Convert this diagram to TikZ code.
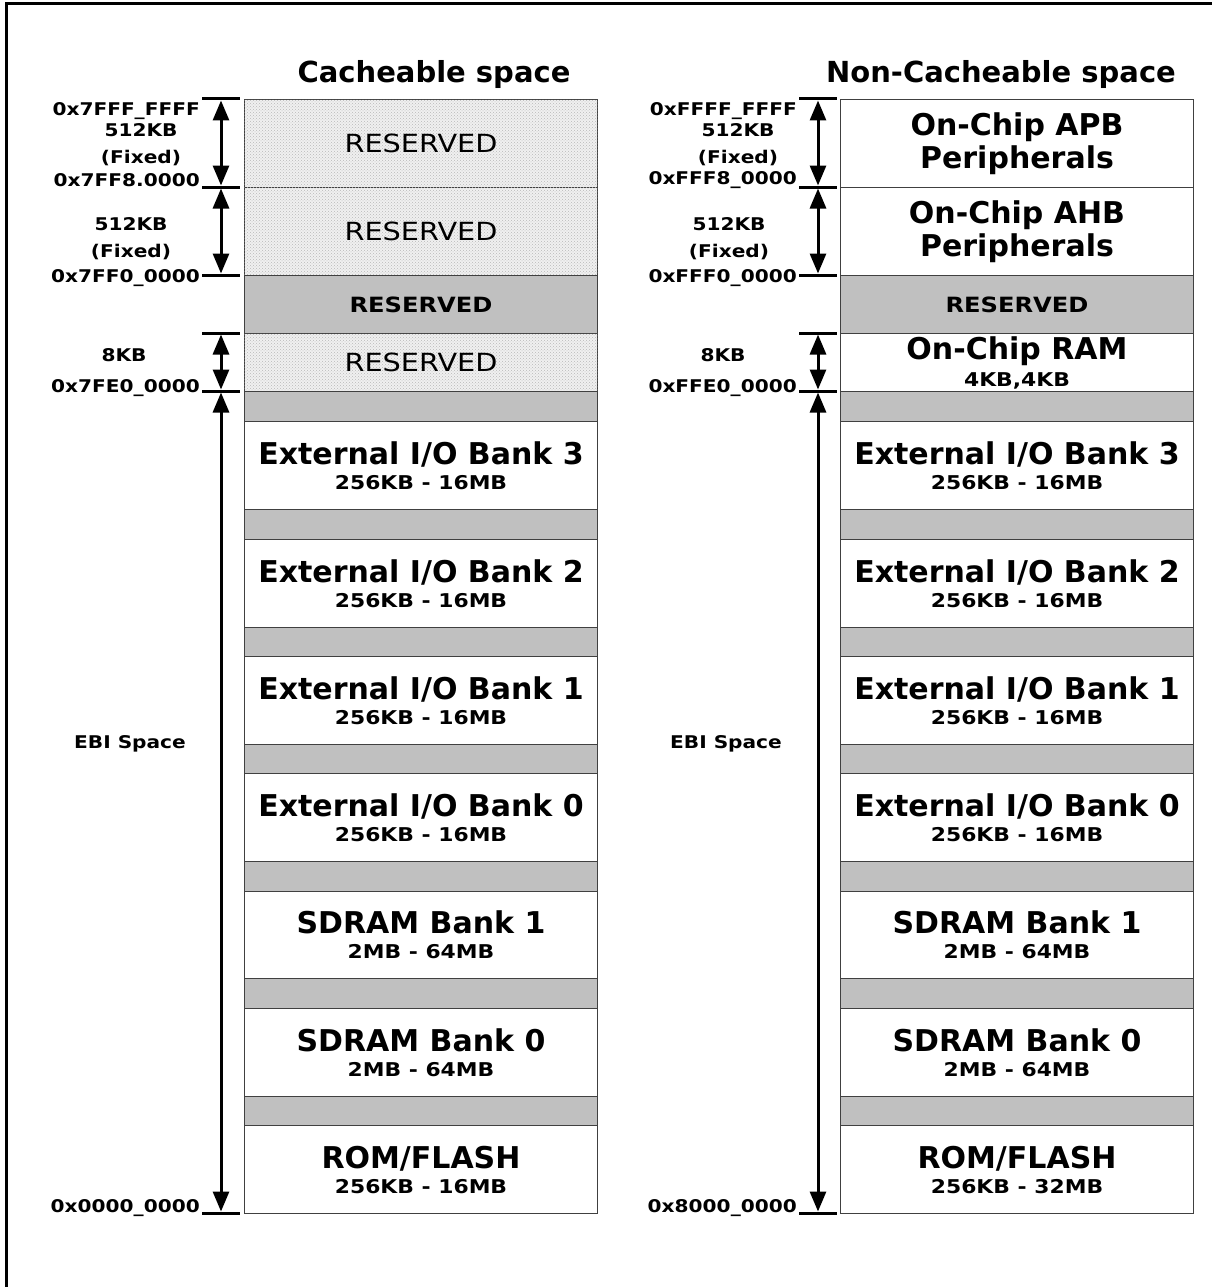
\documentclass[tikz,border=0pt]{standalone}
\usepackage{fontspec}
\setmainfont{DejaVu Sans}
\newfontfamily\widefont{DejaVu Sans}[FakeStretch=1.15]
\usetikzlibrary{patterns,arrows.meta,positioning}

\definecolor{resgray}{RGB}{192,192,192}
\newcommand{\blksize}[1]{{\widefont\fontsize{19}{22}\selectfont #1}}

\tikzset{
  memblk/.style={draw=black!75, line width=1pt, minimum width=353pt,
    anchor=north west, inner sep=0pt, align=center,
    font=\fontsize{30}{25}\selectfont\bfseries},
  hatchblk/.style={memblk, fill=gray!12,
    postaction={pattern=crosshatch dots, pattern color=gray!55},
    font=\widefont\fontsize{25}{28}\selectfont\mdseries},
  grayblk/.style={memblk, fill=resgray, font=\widefont\fontsize{21}{24}\selectfont\bfseries},
  addr/.style={anchor=east, inner sep=0pt, font=\widefont\fontsize{17.5}{20}\selectfont\bfseries},
  sizelbl/.style={inner sep=0pt, align=center, font=\widefont\fontsize{17.5}{27}\selectfont\bfseries},
  title/.style={inner sep=0pt, font=\fontsize{29}{32}\selectfont\bfseries},
  tickline/.style={line width=3pt},
  sizearrow/.style={line width=3pt, shorten <=1.5pt, shorten >=1.5pt,
    {Triangle[width=16pt,length=20pt]}-{Triangle[width=16pt,length=20pt]}}
}

\begin{document}
\begin{tikzpicture}[x=1pt,y=-1pt]
  %\draw[help lines] (0,0) grid[step=100] (1212,1287);
  \useasboundingbox (0,0) rectangle (1212,1287);
  \draw[line width=3pt] (6,1290) -- (6,4) -- (1215,4);

  \node[title] (ctitle) at (434,75) {Cacheable space};
  \node[title] (ntitle) at (1001,75) {Non-Cacheable space};

  % cacheable column
  \node[hatchblk, minimum height=88] (cres1) at (244,99) {RESERVED};
  \node[hatchblk, minimum height=88] (cres2) at (244,187) {RESERVED};
  \node[grayblk, minimum height=58] (cres3) at (244,275) {RESERVED};
  \node[hatchblk, minimum height=58] (cres4) at (244,333) {RESERVED};
  \node[memblk, minimum height=88] (cio3) at (244,421) {External I/O Bank 3\\\blksize{256KB - 16MB}};
  \node[memblk, minimum height=88] (cio2) at (244,539) {External I/O Bank 2\\\blksize{256KB - 16MB}};
  \node[memblk, minimum height=88] (cio1) at (244,656) {External I/O Bank 1\\\blksize{256KB - 16MB}};
  \node[memblk, minimum height=88] (cio0) at (244,773) {External I/O Bank 0\\\blksize{256KB - 16MB}};
  \node[memblk, minimum height=87] (csd1) at (244,891) {SDRAM Bank 1\\\blksize{2MB - 64MB}};
  \node[memblk, minimum height=88] (csd0) at (244,1008) {SDRAM Bank 0\\\blksize{2MB - 64MB}};
  \node[memblk, minimum height=88] (crom) at (244,1125) {ROM/FLASH\\\blksize{256KB - 16MB}};

  % non-cacheable column
  \node[memblk, minimum height=88] (napb) at (840,99) {On-Chip APB\\[3pt]Peripherals};
  \node[memblk, minimum height=88] (nahb) at (840,187) {On-Chip AHB\\[3pt]Peripherals};
  \node[grayblk, minimum height=58] (nres) at (840,275) {RESERVED};
  \node[memblk, minimum height=58] (nram) at (840,333) {On-Chip RAM\\[2pt]\blksize{4KB,4KB}};
  \node[memblk, minimum height=88] (nio3) at (840,421) {External I/O Bank 3\\\blksize{256KB - 16MB}};
  \node[memblk, minimum height=88] (nio2) at (840,539) {External I/O Bank 2\\\blksize{256KB - 16MB}};
  \node[memblk, minimum height=88] (nio1) at (840,656) {External I/O Bank 1\\\blksize{256KB - 16MB}};
  \node[memblk, minimum height=88] (nio0) at (840,773) {External I/O Bank 0\\\blksize{256KB - 16MB}};
  \node[memblk, minimum height=87] (nsd1) at (840,891) {SDRAM Bank 1\\\blksize{2MB - 64MB}};
  \node[memblk, minimum height=88] (nsd0) at (840,1008) {SDRAM Bank 0\\\blksize{2MB - 64MB}};
  \node[memblk, minimum height=88] (nrom) at (840,1125) {ROM/FLASH\\\blksize{256KB - 32MB}};

  \foreach \y/\h in {391/30,509/30,627/29,744/29,861/30,978/30,1096/29}{
    \node[grayblk, minimum height=\h] (cgap\y) at (244,\y) {};
    \node[grayblk, minimum height=\h] (ngap\y) at (840,\y) {};
  }

  % address marks
  \coordinate (ca) at (221,99);
  \coordinate (cb) at (221,187);
  \coordinate (cc) at (221,275);
  \coordinate (cd) at (221,333);
  \coordinate (ce) at (221,391);
  \coordinate (cf) at (221,1213);
  \coordinate (na) at (818,99);
  \coordinate (nb) at (818,187);
  \coordinate (nc) at (818,275);
  \coordinate (nd) at (818,333);
  \coordinate (ne) at (818,391);
  \coordinate (nf) at (818,1213);

  \foreach \p in {ca,cb,cc,cd,ce,cf,na,nb,nc,nd,ne,nf}
    \draw[tickline] ([xshift=-19pt]\p) -- ([xshift=19pt]\p);

  \draw[sizearrow] (ca) -- (cb);
  \draw[sizearrow] (cb) -- (cc);
  \draw[sizearrow] (cd) -- (ce);
  \draw[sizearrow] (ce) -- (cf);
  \draw[sizearrow] (na) -- (nb);
  \draw[sizearrow] (nb) -- (nc);
  \draw[sizearrow] (nd) -- (ne);
  \draw[sizearrow] (ne) -- (nf);

  \node[addr] (caddr1) at (200,111) {0x7FFF\_FFFF};
  \node[sizelbl] (csize1) at (141,145) {512KB\\(Fixed)};
  \node[addr] (caddr2) at (200,180) {0x7FF8.0000};
  \node[sizelbl] (csize2) at (131,239) {512KB\\(Fixed)};
  \node[addr] (caddr3) at (200,278) {0x7FF0\_0000};
  \node[sizelbl] (csize3) at (124,355) {8KB};
  \node[addr] (caddr4) at (200,388) {0x7FE0\_0000};
  \node[sizelbl] (cebi) at (130,744) {EBI Space};
  \node[addr] (caddr5) at (200,1208) {0x0000\_0000};

  \node[addr] (naddr1) at (797,111) {0xFFFF\_FFFF};
  \node[sizelbl] (nsize1) at (738,145) {512KB\\(Fixed)};
  \node[addr] (naddr2) at (797,180) {0xFFF8\_0000};
  \node[sizelbl] (nsize2) at (729,239) {512KB\\(Fixed)};
  \node[addr] (naddr3) at (797,278) {0xFFF0\_0000};
  \node[sizelbl] (nsize3) at (723,355) {8KB};
  \node[addr] (naddr4) at (797,388) {0xFFE0\_0000};
  \node[sizelbl] (nebi) at (726,744) {EBI Space};
  \node[addr] (naddr5) at (797,1208) {0x8000\_0000};
\end{tikzpicture}
\end{document}
